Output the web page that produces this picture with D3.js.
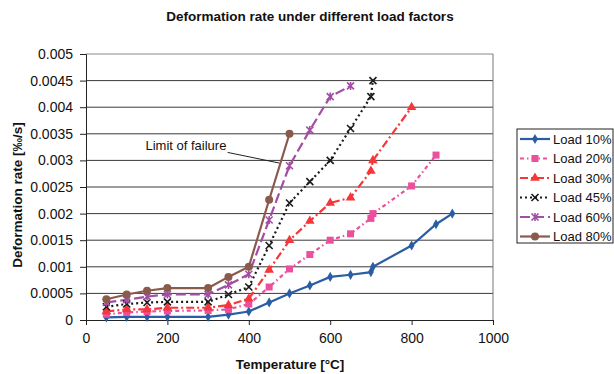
<!DOCTYPE html>
<head>
  <meta charset="utf-8">
  <script src="https://d3js.org/d3.v7.min.js"></script>
  <style>
    body { margin:0; background:#fff; }
    text { font-family: "Liberation Sans", Arial, sans-serif; fill:#111; }
  </style>
</head>
<body>
<script>
// temperatures [°C] and deformation rates [‰/s] per load factor
var temps10 = [50,100,150,200,300,350,400,450,500,550,600,650,700,705,800,860,900];
var rate10  = [0.00005,0.00006,0.00006,0.00006,0.00006,0.0001,0.00016,0.00033,0.0005,0.00065,0.00081,0.00085,0.0009,0.001,0.0014,0.0018,0.002];
var temps20 = [50,100,150,200,300,350,400,450,500,550,600,650,700,705,800,860];
var rate20  = [0.00011,0.00014,0.00016,0.00017,0.00018,0.0002,0.0003,0.00062,0.00096,0.00123,0.0015,0.00162,0.00191,0.002,0.00252,0.0031];
var temps30 = [50,100,150,200,300,350,400,450,500,550,600,650,700,705,800];
var rate30  = [0.00016,0.0002,0.0002,0.00023,0.00023,0.00028,0.0004,0.00094,0.0015,0.00186,0.0022,0.0023,0.0028,0.003,0.004];
var temps45 = [50,100,150,200,300,350,400,450,500,550,600,650,700,705];
var rate45  = [0.00025,0.0003,0.00033,0.00034,0.00034,0.00048,0.00062,0.0014,0.0022,0.0026,0.003,0.0036,0.0042,0.0045];
var temps60 = [50,100,150,200,300,350,400,450,500,550,600,650];
var rate60  = [0.00033,0.00038,0.00044,0.00048,0.00048,0.00066,0.00086,0.00188,0.0029,0.00357,0.0042,0.0044];
var temps80 = [50,100,150,200,300,350,400,450,500];
var rate80  = [0.00039,0.00048,0.00055,0.0006,0.0006,0.00081,0.001,0.00226,0.0035];

var seriesNames = ["Load 10%","Load 20%","Load 30%","Load 45%","Load 60%","Load 80%"];
var xTicks = [0,200,400,600,800,1000];
var yTicks = [0,0.0005,0.001,0.0015,0.002,0.0025,0.003,0.0035,0.004,0.0045,0.005];

var styles = [
  {color:"#2a5da3", dash:null,        marker:"diamond"},
  {color:"#ec4f9d", dash:"4,3,1.5,3", marker:"square"},
  {color:"#f7363a", dash:"8,3,2,3",   marker:"triangle"},
  {color:"#1a1a1a", dash:"2,3",       marker:"cross"},
  {color:"#a24ea4", dash:"10,4",      marker:"asterisk"},
  {color:"#8a5a4c", dash:null,        marker:"circle"}
];

var series = [
  [temps10, rate10],[temps20, rate20],[temps30, rate30],
  [temps45, rate45],[temps60, rate60],[temps80, rate80]
].map(function(p, i){
  return { name: seriesNames[i], style: styles[i],
    values: p[0].map(function(t, j){ return {t:t, v:p[1][j]}; }) };
});

var W = 614, H = 374;
var svg = d3.select("body").append("svg").attr("width", W).attr("height", H);

var x = d3.scaleLinear().domain([0,1000]).range([86,493]);
var y = d3.scaleLinear().domain([0,0.005]).range([320,54]);

// gridlines
svg.append("g").selectAll("line").data(yTicks.slice(1)).enter().append("line")
  .attr("x1", x(0)).attr("x2", x(1000))
  .attr("y1", function(d){ return y(d); }).attr("y2", function(d){ return y(d); })
  .attr("stroke", function(d){ return d === 0.005 ? "#888" : "#3a3a3a"; })
  .attr("stroke-width", 1);
svg.append("line").attr("x1", x(1000)).attr("x2", x(1000))
  .attr("y1", y(0.005)).attr("y2", y(0)).attr("stroke", "#777");

// axes
var yAxis = svg.append("g").attr("transform","translate(" + x(0) + ",0)")
  .call(d3.axisLeft(y).tickValues(yTicks).tickSize(6).tickFormat(function(d){ return d === 0 ? "0" : String(+d.toFixed(4)); }));
var xAxis = svg.append("g").attr("transform","translate(0," + y(0) + ")")
  .call(d3.axisBottom(x).tickValues(xTicks).tickSize(5).tickFormat(d3.format("d")));
[xAxis, yAxis].forEach(function(a){
  a.select(".domain").attr("stroke","#222");
  a.selectAll(".tick line").attr("stroke","#222");
  a.selectAll("text").style("font-size","14px").style("font-family","Liberation Sans, Arial, sans-serif").attr("fill","#111");
});
yAxis.selectAll("text").attr("x", -13);
xAxis.selectAll("text").attr("y", 13);

// lines
var line = d3.line().x(function(d){ return x(d.t); }).y(function(d){ return y(d.v); });
svg.append("g").selectAll("path").data(series).enter().append("path")
  .attr("d", function(d){ return line(d.values); })
  .attr("fill","none")
  .attr("stroke", function(d){ return d.style.color; })
  .attr("stroke-width", 2.2)
  .attr("stroke-dasharray", function(d){ return d.style.dash; });

function drawMarker(g, kind, color){
  if (kind === "diamond") {
    g.append("path").attr("d", d3.symbol(d3.symbolDiamond, 30)()).attr("fill", color);
  } else if (kind === "square") {
    g.append("rect").attr("x",-3.5).attr("y",-3.5).attr("width",7).attr("height",7).attr("fill", color);
  } else if (kind === "triangle") {
    g.append("path").attr("d", d3.symbol(d3.symbolTriangle, 40)()).attr("fill", color);
  } else if (kind === "cross") {
    g.append("path").attr("d","M-3.5,-3.5L3.5,3.5M-3.5,3.5L3.5,-3.5").attr("stroke", color).attr("stroke-width",1.6);
  } else if (kind === "asterisk") {
    g.append("path").attr("d","M-3.5,-3.5L3.5,3.5M-3.5,3.5L3.5,-3.5M0,-4L0,4").attr("stroke", color).attr("stroke-width",1.6);
  } else {
    g.append("circle").attr("r",4).attr("fill", color);
  }
}

series.forEach(function(s){
  var g = svg.append("g");
  s.values.forEach(function(d){
    var m = g.append("g").attr("transform","translate(" + x(d.t) + "," + y(d.v) + ")");
    drawMarker(m, s.style.marker, s.style.color);
  });
});

// annotation
svg.append("text").attr("x", x(345)).attr("y", y(0.0032)).attr("text-anchor","end")
  .style("font-size","13px").text("Limit of failure");
svg.append("line").attr("x1", x(348)).attr("y1", y(0.00315)).attr("x2", x(475)).attr("y2", y(0.00295))
  .attr("stroke","#222").attr("stroke-width",1);

// titles
svg.append("text").attr("x", 310).attr("y", 21).attr("text-anchor","middle")
  .style("font-size","13.5px").style("font-weight","bold").text("Deformation rate under different load factors");
svg.append("text").attr("x", 290).attr("y", 369).attr("text-anchor","middle")
  .style("font-size","13.5px").style("font-weight","bold").text("Temperature [°C]");
svg.append("text").attr("transform","translate(22,195) rotate(-90)").attr("text-anchor","middle")
  .style("font-size","13.5px").style("font-weight","bold").text("Deformation rate [‰/s]");

// legend
var leg = svg.append("g");
leg.append("rect").attr("x",517).attr("y",129).attr("width",96).attr("height",114)
  .attr("fill","#fff").attr("stroke","#222");
var li = leg.selectAll("g").data(series).enter().append("g")
  .attr("transform", function(d, i){ return "translate(0," + (139 + i * 19.5) + ")"; });
li.append("line").attr("x1",520).attr("x2",550).attr("y1",0).attr("y2",0)
  .attr("stroke", function(d){ return d.style.color; }).attr("stroke-width",2.2)
  .attr("stroke-dasharray", function(d){ return d.style.dash; });
li.each(function(d){
  var m = d3.select(this).append("g").attr("transform","translate(535,0)");
  drawMarker(m, d.style.marker, d.style.color);
});
li.append("text").attr("x",553).attr("y",4.5).style("font-size","13px").text(function(d){ return d.name; });
</script>
</body>
